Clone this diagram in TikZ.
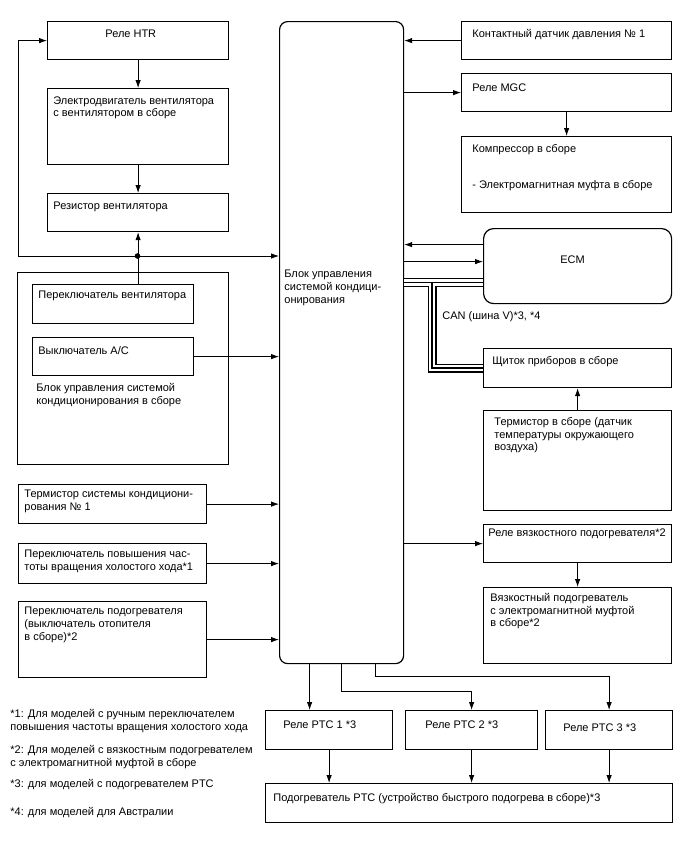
\documentclass[tikz,border=0pt]{standalone}
\usepackage{fontspec}
\setmainfont{Liberation Sans}
\usetikzlibrary{arrows.meta}

\tikzset{
  blk/.style={draw, line width=1.2pt, anchor=north west, inner sep=0pt},
  lbl/.style 2 args={anchor=north west, align=left, inner sep=0pt, xshift=#1, yshift=-#2},
  fn/.style={anchor=north west, align=left, inner sep=0pt},
}

\begin{document}
\begin{tikzpicture}[x=1pt,y=-1pt,>={Latex[length=8pt,width=5.5pt]},line width=0.8pt,
    font=\fontsize{11}{12.6}\selectfont]
  \useasboundingbox (0,0) rectangle (688,852);

  % left column
  \node[blk,minimum width=181pt,minimum height=38pt,label={[lbl={58pt}{9pt}]north west:Реле HTR}] (htr) at (47,21) {};
  \node[blk,minimum width=181pt,minimum height=76pt,label={[lbl={6pt}{8pt}]north west:{Электродвигатель вентилятора\\с вентилятором в сборе}}] (motor) at (47,88) {};
  \node[blk,minimum width=181pt,minimum height=38pt,label={[lbl={6pt}{9pt}]north west:Резистор вентилятора}] (res) at (47,193) {};
  \node[blk,minimum width=211pt,minimum height=192pt,label={[lbl={19pt}{111pt}]north west:{Блок управления системой\\кондиционирования в сборе}}] (ctrl) at (17,272) {};
  \node[blk,minimum width=161pt,minimum height=39pt,label={[lbl={6pt}{7pt}]north west:Переключатель вентилятора}] (fsw) at (32,284) {};
  \node[blk,minimum width=161pt,minimum height=38pt,label={[lbl={6pt}{9pt}]north west:Выключатель A/C}] (acsw) at (32,337) {};
  \node[blk,minimum width=188pt,minimum height=39pt,label={[lbl={6pt}{6pt}]north west:{Термистор системы кондициони-\\рования № 1}}] (therm1) at (18,484) {};
  \node[blk,minimum width=188pt,minimum height=40pt,label={[lbl={6pt}{7pt}]north west:{Переключатель повышения час-\\тоты вращения холостого хода*1}}] (idle) at (18,543) {};
  \node[blk,minimum width=188pt,minimum height=76pt,label={[lbl={6pt}{6pt}]north west:{Переключатель подогревателя\\(выключатель отопителя\\в сборе)*2}}] (heatsw) at (18,601) {};

  % main block
  \node[blk,rounded corners=8pt,minimum width=124pt,minimum height=642pt,label={[lbl={5pt}{249pt}]north west:{Блок управления\\системой кондици-\\онирования}}] (main) at (279,21) {};

  % right column
  \node[blk,minimum width=210pt,minimum height=38pt,label={[lbl={11pt}{8pt}]north west:Контактный датчик давления № 1}] (press) at (461,21) {};
  \node[blk,minimum width=210pt,minimum height=38pt,label={[lbl={11pt}{10pt}]north west:Реле MGC}] (mgc) at (461,73) {};
  \node[blk,minimum width=210pt,minimum height=76pt,label={[lbl={11pt}{8pt}]north west:{Компрессор в сборе\\[23pt]- Электромагнитная муфта в сборе}}] (comp) at (461,136) {};
  \node[blk,rounded corners=10pt,minimum width=188pt,minimum height=75pt,label={[xshift=-5pt,yshift=6pt]center:ECM}] (ecm) at (483,228) {};
  \node[blk,minimum width=188pt,minimum height=39pt,label={[lbl={9pt}{8pt}]north west:Щиток приборов в сборе}] (dash) at (483,348) {};
  \node[blk,minimum width=188pt,minimum height=100pt,label={[lbl={11pt}{7pt}]north west:{Термистор в сборе (датчик\\температуры окружающего\\воздуха)}}] (therm) at (483,410) {};
  \node[blk,minimum width=188pt,minimum height=38pt,label={[lbl={5pt}{4pt}]north west:Реле вязкостного подогревателя*2}] (vrel) at (483,524) {};
  \node[blk,minimum width=188pt,minimum height=76pt,label={[lbl={7pt}{6pt}]north west:{Вязкостный подогреватель\\с электромагнитной муфтой\\в сборе*2}}] (vheat) at (483,587) {};
  \node[anchor=north west,inner sep=0pt] (can) at (442,311) {CAN (шина V)*3, *4};

  % bottom row
  \node[blk,minimum width=127pt,minimum height=39pt,label={[lbl={18pt}{10pt}]north west:Реле PTC 1 *3}] (ptc1) at (265,710) {};
  \node[blk,minimum width=132pt,minimum height=39pt,label={[lbl={20pt}{10pt}]north west:Реле PTC 2 *3}] (ptc2) at (405,710) {};
  \node[blk,minimum width=127pt,minimum height=39pt,label={[lbl={18pt}{13pt}]north west:Реле PTC 3 *3}] (ptc3) at (545,710) {};
  \node[blk,minimum width=407pt,minimum height=39pt,label={[lbl={8pt}{10pt}]north west:Подогреватель PTC (устройство быстрого подогрева в сборе)*3}] (heater) at (265,783) {};

  % footnotes
  \node[fn] (fn1) at (10,709) {*1: Для моделей с ручным переключателем\\повышения частоты вращения холостого хода};
  \node[fn] (fn2) at (10,745) {*2: Для моделей с вязкостным подогревателем\\с электромагнитной муфтой в сборе};
  \node[fn] (fn3) at (10,779) {*3: для моделей с подогревателем PTC};
  \node[fn] (fn4) at (10,807) {*4: для моделей для Австралии};

  % connectors
  \coordinate (j) at (137.5,256);
  \coordinate (fb) at (18,256);
  \draw[->] (htr) -- (motor);
  \draw[->] (motor) -- (res);
  \draw[->] (res.south |- fsw.north) -- (res.south);
  \draw[->] (j) -- (fb) |- (htr.west);
  \draw[->] (j) -- (j -| main.west);
  \fill (j) circle (2.8pt);
  \draw[->] (acsw.east) -- (acsw.east -| main.west);
  \draw[->] (therm1.east) -- (therm1.east -| main.west);
  \draw[->] (idle.east) -- (idle.east -| main.west);
  \draw[->] (heatsw.east) -- (heatsw.east -| main.west);

  \draw[->] (press.west) -- (press.west -| main.east);
  \draw[->] (mgc.west -| main.east) -- (mgc.west);
  \draw[->] (mgc) -- (comp);
  \coordinate (e1) at ([yshift=21.5pt]ecm.west);
  \coordinate (e2) at ([yshift=4.5pt]ecm.west);
  \draw[->] (e1) -- (e1 -| main.east);
  \draw[->] (e2 -| main.east) -- (e2);
  \draw[->] (therm) -- (dash);
  \draw[->] (vrel.west -| main.east) -- (vrel.west);
  \draw[->] (vrel) -- (vheat);

  % CAN bus
  \coordinate (b0) at ([yshift=-16.5pt]ecm.west);
  \coordinate (bk) at (432,282);
  \foreach \w/\c in {9pt/black,6.4pt/white,1.3pt/black}
    \draw[line width=\w,\c] (b0 -| main.east) -- (b0) (bk) |- (dash.west);

  % PTC relays
  \coordinate (m1) at ([xshift=-32pt]main.south);
  \coordinate (m3) at ([xshift=34pt]main.south);
  \coordinate (y2) at (0,691);
  \coordinate (y3) at (0,676);
  \draw[->] (m1) -- (m1 |- ptc1.north);
  \draw[->] (main.south) |- (ptc2.north |- y2) -- (ptc2.north);
  \draw[->] (m3) |- (ptc3.north |- y3) -- (ptc3.north);
  \draw[->] (ptc1.south) -- (ptc1.south |- heater.north);
  \draw[->] (ptc2.south) -- (ptc2.south |- heater.north);
  \draw[->] (ptc3.south) -- (ptc3.south |- heater.north);
\end{tikzpicture}
\end{document}
